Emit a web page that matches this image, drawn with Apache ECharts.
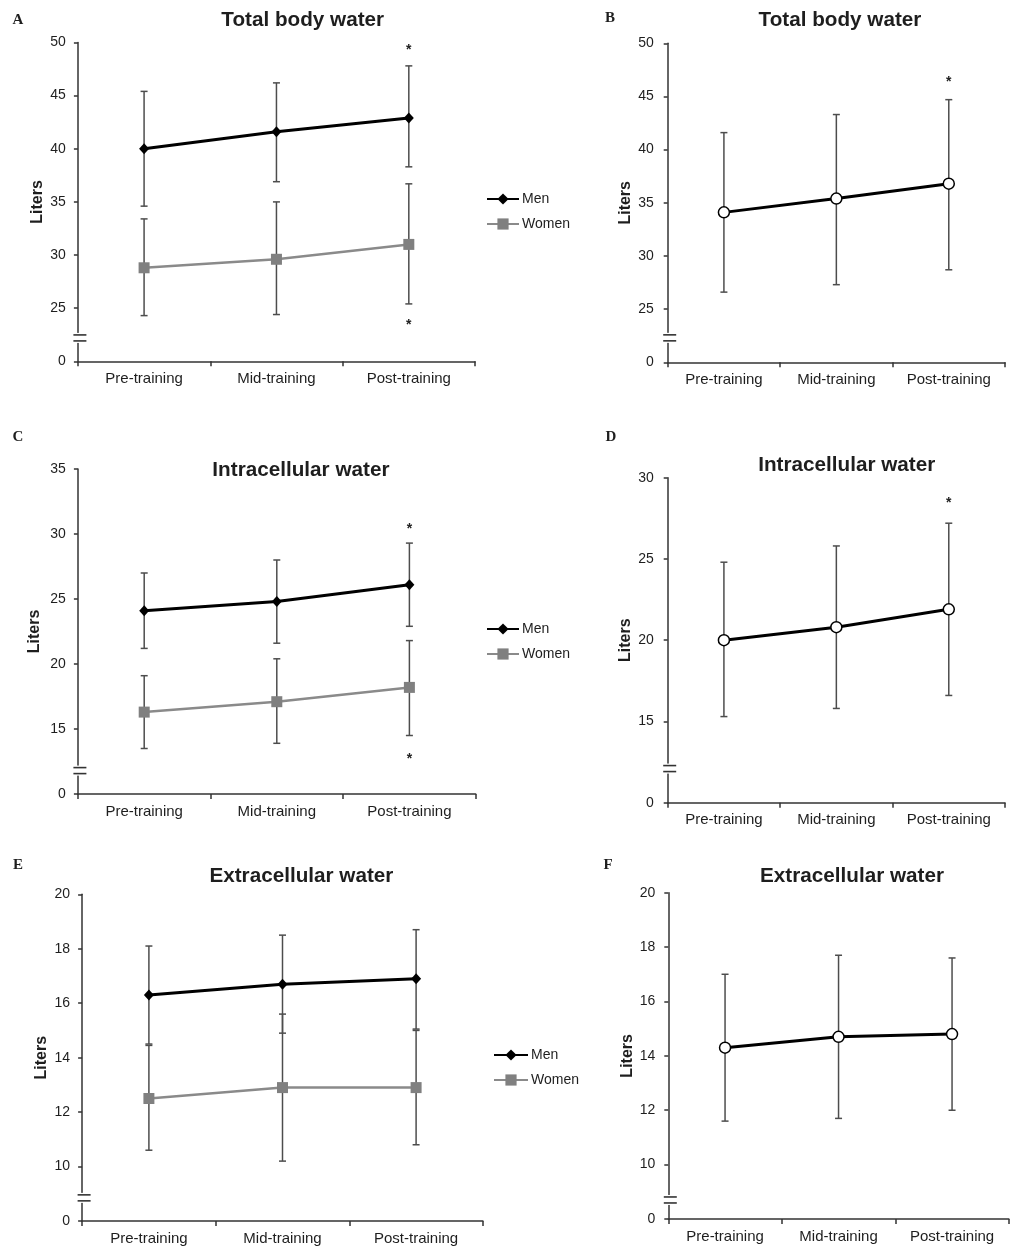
<!DOCTYPE html>
<html>
<head>
<meta charset="utf-8">
<script src="https://cdn.jsdelivr.net/npm/echarts@6/dist/echarts.min.js"></script>
<style>
html,body{margin:0;padding:0;background:#fff;}
#chart{width:1010px;height:1246px;}
</style>
</head>
<body>
<div id="chart"></div>
<script>
// ---------- data ----------
const categories = ['Pre-training', 'Mid-training', 'Post-training'];

// A: Total body water, men vs women
const aMen = [40.0, 41.6, 42.9];
const aMenLow = [34.6, 36.9, 38.3];
const aMenHigh = [45.4, 46.2, 47.8];
const aWomen = [28.8, 29.6, 31.0];
const aWomenLow = [24.3, 24.4, 25.4];
const aWomenHigh = [33.4, 35.0, 36.7];
const aStars = [[2, 49.6], [2, 23.7]];

// B: Total body water, all
const bAll = [34.1, 35.4, 36.8];
const bAllLow = [26.6, 27.3, 28.7];
const bAllHigh = [41.6, 43.3, 44.7];
const bStars = [[2, 46.6]];

// C: Intracellular water, men vs women
const cMen = [24.1, 24.8, 26.1];
const cMenLow = [21.2, 21.6, 22.9];
const cMenHigh = [27.0, 28.0, 29.3];
const cWomen = [16.3, 17.1, 18.2];
const cWomenLow = [13.5, 13.9, 14.5];
const cWomenHigh = [19.1, 20.4, 21.8];
const cStars = [[2, 30.6], [2, 12.9]];

// D: Intracellular water, all
const dAll = [20.0, 20.8, 21.9];
const dAllLow = [15.3, 15.8, 16.6];
const dAllHigh = [24.8, 25.8, 27.2];
const dStars = [[2, 28.6]];

// E: Extracellular water, men vs women
const eMen = [16.3, 16.7, 16.9];
const eMenLow = [14.5, 14.9, 15.05];
const eMenHigh = [18.1, 18.5, 18.7];
const eWomen = [12.5, 12.9, 12.9];
const eWomenLow = [10.6, 10.2, 10.8];
const eWomenHigh = [14.45, 15.6, 15.0];
const eStars = [];

// F: Extracellular water, all
const fAll = [14.3, 14.7, 14.8];
const fAllLow = [11.6, 11.7, 12.0];
const fAllHigh = [17.0, 17.7, 17.6];
const fStars = [];

// axis scales (bottom value of each axis is shown as "0" after a break)
const yMins = [20, 20, 10, 10, 8, 8];
const yMaxs = [50, 50, 35, 30, 20, 20];
const yIntervals = [5, 5, 5, 5, 2, 2];
const breakValues = [22.2, 22.3, 11.8, 12.1, 8.85, 8.7];

const panelTitles = ['Total body water', 'Total body water', 'Intracellular water', 'Intracellular water', 'Extracellular water', 'Extracellular water'];
const panelLetters = ['A', 'B', 'C', 'D', 'E', 'F'];

// ---------- layout ----------
const grids = [
  {left: 77.9, top: 42.5, width: 397.1, height: 318.8},
  {left: 667.7, top: 43.3, width: 337.3, height: 319},
  {left: 77.9, top: 469, width: 397.8, height: 325},
  {left: 667.7, top: 477.7, width: 337.3, height: 325},
  {left: 82.1, top: 894.3, width: 400.8, height: 326.7},
  {left: 668.3, top: 892.7, width: 340.5, height: 326.3}
];
const titlePos = [[302.7, 20], [840, 20], [300.9, 470], [846.7, 465.7], [301.4, 876.7], [852, 876.7]];
const letterPos = [[18, 20], [610, 18], [18, 437], [611, 437.5], [18, 865], [608, 865]];
const labelMargins = [12, 14, 12, 14, 12, 13];
const nameGaps = [32, 34, 35, 34, 33, 33];
const legendPos = [[486, 192], null, [486, 622], null, [493, 1048], null];
const legendWidths = [32, 0, 32, 0, 34, 0];

const FONT = 'Liberation Sans, Arial, sans-serif';

function errRender(params, api) {
  const x = api.value(0);
  const lo = api.coord([x, api.value(1)]);
  const hi = api.coord([x, api.value(2)]);
  const cap = 3.5;
  const style = {stroke: '#4d4d4d', lineWidth: 1.5};
  return {type: 'group', children: [
    {type: 'line', shape: {x1: lo[0], y1: lo[1], x2: hi[0], y2: hi[1]}, style: style},
    {type: 'line', shape: {x1: lo[0] - cap, y1: lo[1], x2: lo[0] + cap, y2: lo[1]}, style: style},
    {type: 'line', shape: {x1: hi[0] - cap, y1: hi[1], x2: hi[0] + cap, y2: hi[1]}, style: style}
  ]};
}
function starRender(params, api) {
  const p = api.coord([api.value(0), api.value(1)]);
  return {type: 'text', x: p[0], y: p[1] + 3, style: {text: '*', font: 'bold 14px ' + FONT, fill: '#222', align: 'center', verticalAlign: 'middle'}};
}
function breakRender(params, api) {
  const p = api.coord([0, api.value(1)]);
  const ax = params.coordSys.x;
  const y = p[1];
  const st = {stroke: '#333', lineWidth: 1.6};
  return {type: 'group', children: [
    {type: 'rect', shape: {x: ax - 2, y: y - 5, width: 4, height: 10}, style: {fill: '#fff'}},
    {type: 'line', shape: {x1: ax - 4.5, y1: y - 3, x2: ax + 8.5, y2: y - 3}, style: st},
    {type: 'line', shape: {x1: ax - 4.5, y1: y + 3, x2: ax + 8.5, y2: y + 3}, style: st}
  ]};
}
function errData(lo, hi) { return categories.map((c, i) => [i, lo[i], hi[i]]); }

const panels = [
  {men: aMen, menLo: aMenLow, menHi: aMenHigh, women: aWomen, wLo: aWomenLow, wHi: aWomenHigh, stars: aStars},
  {all: bAll, lo: bAllLow, hi: bAllHigh, stars: bStars},
  {men: cMen, menLo: cMenLow, menHi: cMenHigh, women: cWomen, wLo: cWomenLow, wHi: cWomenHigh, stars: cStars},
  {all: dAll, lo: dAllLow, hi: dAllHigh, stars: dStars},
  {men: eMen, menLo: eMenLow, menHi: eMenHigh, women: eWomen, wLo: eWomenLow, wHi: eWomenHigh, stars: eStars},
  {all: fAll, lo: fAllLow, hi: fAllHigh, stars: fStars}
];

const xAxes = [], yAxes = [], series = [], legends = [], graphics = [];
panels.forEach((p, k) => {
  xAxes.push({
    type: 'category', gridIndex: k, data: categories, boundaryGap: true,
    axisLine: {lineStyle: {color: '#333', width: 1.5}},
    axisTick: {show: true, length: 5, lineStyle: {color: '#333', width: 1.5}},
    axisLabel: {fontFamily: FONT, fontSize: 15, color: '#1e1e1e', margin: 10},
    splitLine: {show: false}
  });
  const mn = yMins[k];
  yAxes.push({
    type: 'value', gridIndex: k, min: mn, max: yMaxs[k], interval: yIntervals[k],
    name: 'Liters', nameLocation: 'middle', nameRotate: 90, nameGap: nameGaps[k],
    nameTextStyle: {fontFamily: FONT, fontSize: 16, fontWeight: 'bold', color: '#1e1e1e'},
    axisLine: {show: true, lineStyle: {color: '#333', width: 1.5}},
    axisTick: {show: true, length: 4, lineStyle: {color: '#333', width: 1.5}},
    axisLabel: {fontFamily: FONT, fontSize: 14, color: '#1e1e1e', margin: labelMargins[k],
      formatter: v => (v === mn ? '0' : String(v))},
    splitLine: {show: false}
  });
  if (p.men) {
    series.push({type: 'custom', xAxisIndex: k, yAxisIndex: k, renderItem: errRender, data: errData(p.menLo, p.menHi), encode: {x: 0, y: [1, 2]}, z: 1, silent: true});
    series.push({type: 'custom', xAxisIndex: k, yAxisIndex: k, renderItem: errRender, data: errData(p.wLo, p.wHi), encode: {x: 0, y: [1, 2]}, z: 1, silent: true});
    series.push({name: 'Men', type: 'line', xAxisIndex: k, yAxisIndex: k, data: p.men, symbol: 'diamond', symbolSize: [10, 11],
      itemStyle: {color: '#000'}, lineStyle: {color: '#000', width: 3}, z: 3, animation: false});
    series.push({name: 'Women', type: 'line', xAxisIndex: k, yAxisIndex: k, data: p.women, symbol: 'rect', symbolSize: 11,
      itemStyle: {color: '#808080'}, lineStyle: {color: '#8a8a8a', width: 2.5}, z: 3, animation: false});
  } else {
    series.push({type: 'custom', xAxisIndex: k, yAxisIndex: k, renderItem: errRender, data: errData(p.lo, p.hi), encode: {x: 0, y: [1, 2]}, z: 1, silent: true});
    series.push({name: 'All', type: 'line', xAxisIndex: k, yAxisIndex: k, data: p.all, symbol: 'circle', symbolSize: 11,
      itemStyle: {color: '#fff', borderColor: '#000', borderWidth: 1.5}, lineStyle: {color: '#000', width: 3}, z: 3, animation: false});
  }
  if (p.stars.length) {
    series.push({type: 'custom', xAxisIndex: k, yAxisIndex: k, renderItem: starRender, data: p.stars, encode: {x: 0, y: 1}, z: 4, clip: false, silent: true});
  }
  series.push({type: 'custom', xAxisIndex: k, yAxisIndex: k, renderItem: breakRender, data: [[0, breakValues[k]]], encode: {x: 0, y: 1}, z: 10, clip: false, silent: true});
  if (legendPos[k]) {
    legends.push({data: ['Men', 'Women'], orient: 'vertical', left: legendPos[k][0], top: legendPos[k][1], padding: 0,
      itemWidth: legendWidths[k], itemHeight: 14, itemGap: 11,
      textStyle: {fontFamily: FONT, fontSize: 14, lineHeight: 14, color: '#1e1e1e', padding: [0, 0, 0, -2]}, selectedMode: false});
  }
  graphics.push({type: 'text', x: titlePos[k][0], y: titlePos[k][1], style: {text: panelTitles[k], font: 'bold 20.7px ' + FONT, fill: '#1e1e1e', align: 'center', verticalAlign: 'middle'}});
  graphics.push({type: 'text', x: letterPos[k][0], y: letterPos[k][1], style: {text: panelLetters[k], font: 'bold 15px Liberation Serif, DejaVu Serif, serif', fill: '#1e1e1e', align: 'center', verticalAlign: 'middle'}});
});

const chart = echarts.init(document.getElementById('chart'), null, {renderer: 'canvas'});
chart.setOption({
  animation: false,
  backgroundColor: '#fff',
  grid: grids,
  xAxis: xAxes,
  yAxis: yAxes,
  legend: legends,
  series: series,
  graphic: graphics
});
</script>
</body>
</html>
